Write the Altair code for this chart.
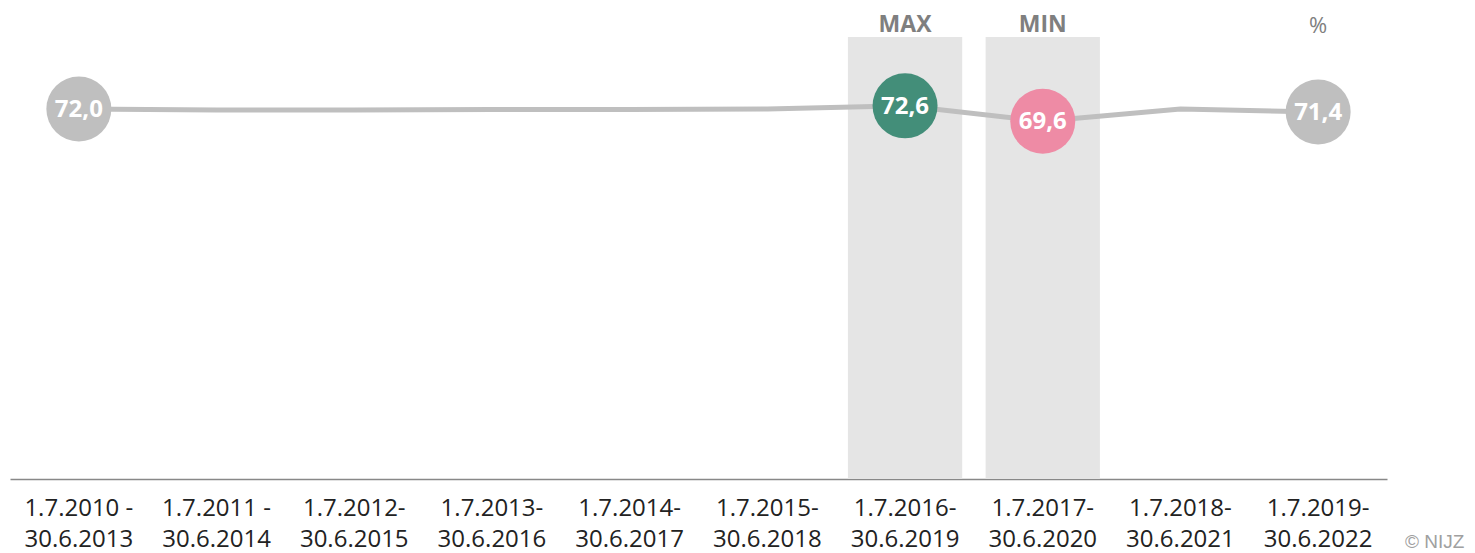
import altair as alt
import pandas as pd

categories = [
    "1.7.2010 -\n30.6.2013",
    "1.7.2011 -\n30.6.2014",
    "1.7.2012-\n30.6.2015",
    "1.7.2013-\n30.6.2016",
    "1.7.2014-\n30.6.2017",
    "1.7.2015-\n30.6.2018",
    "1.7.2016-\n30.6.2019",
    "1.7.2017-\n30.6.2020",
    "1.7.2018-\n30.6.2021",
    "1.7.2019-\n30.6.2022",
]
values = [72.0, 71.8, 71.8, 71.9, 71.9, 72.0, 72.6, 69.6, 72.0, 71.4]
kinds = ["first", "", "", "", "", "", "max", "min", "", "last"]
highlight_cats = [categories[6], categories[7]]
highlight_texts = ["MAX", "MIN"]
unit_text = "%"
source_text = "© NIJZ"

Y_MAX = 86

GRAY = "#BFBFBF"
GREEN = "#438E79"
PINK = "#EE8BA5"
SHADE = "#E5E5E5"

df = pd.DataFrame({
    "cat": categories,
    "value": values,
    "kind": kinds,
})
df["label"] = [f"{v:.1f}".replace(".", ",") for v in df["value"]]

hl = pd.DataFrame({"cat": highlight_cats, "text": highlight_texts, "top": [Y_MAX, Y_MAX]})
unit_df = pd.DataFrame({"cat": [categories[-1]], "text": [unit_text]})
src_df = pd.DataFrame({"text": [source_text]})

x_enc = alt.X(
    "cat:N",
    sort=categories,
    scale=alt.Scale(type="band", paddingInner=0, paddingOuter=0),
    axis=alt.Axis(
        title=None,
        labelExpr="split(datum.label, '\\n')",
        labelFontSize=24,
        labelFont="Open Sans",
        labelColor="#222222",
        labelLineHeight=31,
        labelAngle=0,
        ticks=False,
        labelPadding=17,
        domainColor="#888888",
        domainWidth=1.5,
        grid=False,
    ),
)
y_scale = alt.Scale(domain=[0, Y_MAX])

bars = alt.Chart(hl).mark_bar(color=SHADE, width=alt.RelativeBandSize(0.83)).encode(
    x=x_enc,
    y=alt.Y("top:Q", scale=y_scale, axis=None),
)

hl_text = alt.Chart(hl).mark_text(
    font="Open Sans", fontSize=23, fontWeight="bold", color="#7F7F7F", baseline="alphabetic"
).encode(
    x=x_enc,
    y=alt.value(-5),
    text="text:N",
)

unit = alt.Chart(unit_df).mark_text(
    font="Open Sans", fontSize=22, color="#808080", baseline="alphabetic"
).encode(
    x=x_enc,
    y=alt.value(-4),
    text="text:N",
)

line = alt.Chart(df).mark_line(color=GRAY, strokeWidth=5).encode(
    x=x_enc,
    y=alt.Y("value:Q", scale=y_scale, axis=None),
)

pts = alt.Chart(df).transform_filter("datum.kind != ''")

circles = pts.mark_circle(size=4225, opacity=1).encode(
    x=x_enc,
    y=alt.Y("value:Q", scale=y_scale, axis=None),
    color=alt.Color(
        "kind:N",
        scale=alt.Scale(domain=["first", "max", "min", "last"], range=[GRAY, GREEN, PINK, GRAY]),
        legend=None,
    ),
)

labels = pts.mark_text(
    font="Open Sans", fontSize=24, fontWeight="bold", color="white", baseline="middle", dy=1
).encode(
    x=x_enc,
    y=alt.Y("value:Q", scale=y_scale, axis=None),
    text="label:N",
)

src = alt.Chart(src_df).mark_text(
    font="Liberation Sans", fontSize=19, color="#A0A0A0", align="left", baseline="alphabetic"
).encode(
    x=alt.value(1395),
    y=alt.value(511),
    text="text:N",
)

chart = alt.layer(bars, hl_text, unit, line, circles, labels, src).properties(
    width=1377,
    height=442,
    autosize=alt.AutoSizeParams(type="none"),
    padding={"left": 2, "top": 29, "right": 80, "bottom": 74},
).configure_view(stroke=None)

chart.save("out.html", embed_options={"renderer": "svg", "actions": False})
